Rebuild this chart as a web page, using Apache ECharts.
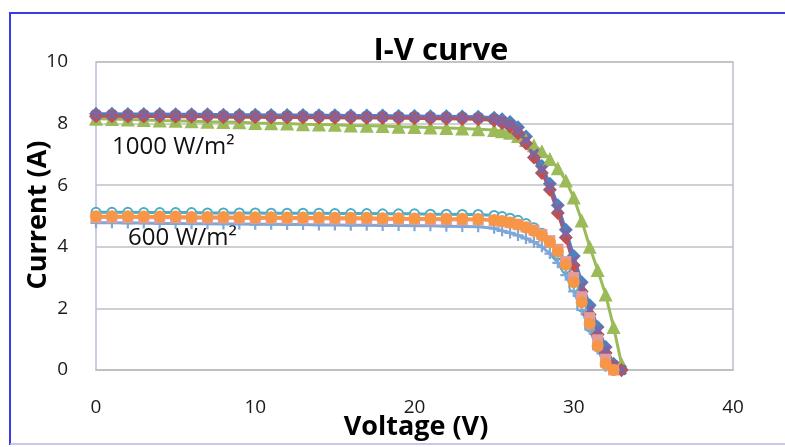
<!DOCTYPE html>
<html>
<head>
<meta charset="utf-8">
<script src="https://cdn.jsdelivr.net/npm/echarts@6/dist/echarts.min.js"></script>
<style>
  html, body { margin: 0; padding: 0; background: #fff; }
  #chart { width: 785px; height: 447px; }
</style>
</head>
<body>
<div id="chart"></div>
<script>
// voltage points shared by every series (1 V steps, then 0.5 V in the knee)
const voltage = [0,1,2,3,4,5,6,7,8,9,10,11,12,13,14,15,16,17,18,19,20,21,22,23,24,
  25,25.5,26,26.5,27,27.5,28,28.5,29,29.5,30,30.5,31,31.5,32,32.5,33]

// 1000 W/m2 curves
const cur1000a = [8.32,8.32,8.31,8.31,8.31,8.30,8.30,8.30,8.29,8.29,8.29,8.28,8.28,8.28,8.27,8.27,8.26,8.26,8.26,8.25,8.25,8.24,8.24,8.23,8.22,
  8.19,8.14,8.05,7.88,7.58,7.15,6.62,6.05,5.35,4.55,3.70,2.85,2.10,1.40,0.75,0.20,0]
const cur1000b = [8.16,8.15,8.13,8.12,8.10,8.09,8.08,8.06,8.05,8.04,8.02,8.01,8.00,7.98,7.97,7.96,7.94,7.93,7.92,7.90,7.89,7.87,7.86,7.84,7.82,
  7.79,7.75,7.70,7.60,7.47,7.30,7.10,6.85,6.55,6.15,5.60,4.85,4.00,3.25,2.45,1.40,0.20]
const cur1000c = [8.24,8.24,8.23,8.23,8.23,8.22,8.22,8.22,8.21,8.21,8.21,8.20,8.20,8.20,8.19,8.19,8.18,8.18,8.18,8.17,8.17,8.16,8.16,8.15,8.14,
  8.10,8.02,7.90,7.68,7.35,6.90,6.40,5.85,5.10,4.30,3.40,2.55,1.80,1.15,0.55,0.12,0]
const cur1000d = [8.28,8.28,8.27,8.27,8.27,8.26,8.26,8.26,8.25,8.25,8.25,8.24,8.24,8.24,8.23,8.23,8.22,8.22,8.22,8.21,8.21,8.20,8.20,8.19,8.18,
  8.14,8.07,7.96,7.76,7.45,7.02,6.50,5.95,5.25,4.45,3.55,2.70,1.95,1.28,0.65,0.15,0]

// 600 W/m2 curves
const cur600a = [5.12,5.12,5.12,5.11,5.11,5.11,5.11,5.10,5.10,5.10,5.10,5.09,5.09,5.09,5.09,5.08,5.08,5.08,5.07,5.07,5.07,5.06,5.06,5.05,5.05,
  5.02,4.98,4.93,4.86,4.76,4.62,4.44,4.18,3.75,3.30,2.70,2.05,1.40,0.75,0.20,0]
const cur600b = [4.78,4.78,4.77,4.77,4.76,4.76,4.75,4.75,4.74,4.74,4.73,4.73,4.72,4.72,4.71,4.71,4.70,4.70,4.69,4.69,4.68,4.68,4.67,4.66,4.65,
  4.60,4.52,4.45,4.37,4.27,4.15,4.00,3.78,3.48,3.08,2.55,1.95,1.32,0.68,0.12,0]
const cur600c = [4.95,4.95,4.95,4.94,4.94,4.94,4.93,4.93,4.93,4.92,4.92,4.92,4.91,4.91,4.91,4.90,4.90,4.90,4.89,4.89,4.89,4.88,4.88,4.87,4.87,
  4.85,4.82,4.78,4.72,4.64,4.54,4.40,4.20,3.92,3.52,3.00,2.38,1.70,0.98,0.35,0]
const cur600d = [4.99,4.99,4.99,4.98,4.98,4.98,4.97,4.97,4.97,4.96,4.96,4.96,4.95,4.95,4.95,4.94,4.94,4.94,4.93,4.93,4.92,4.92,4.91,4.91,4.90,
  4.87,4.84,4.79,4.72,4.63,4.51,4.36,4.15,3.85,3.42,2.85,2.20,1.50,0.78,0.20,0]

const yTicks = [0, 2, 4, 6, 8, 10]
const xTicks = [0, 10, 20, 30, 40]

const font = '"Open Sans", Lato, sans-serif'
const symX = 'path://M0,2L2,0L5,3L8,0L10,2L7,5L10,8L8,10L5,7L2,10L0,8L3,5Z'
const symPlus = 'path://M4,0H6V4H10V6H6V10H4V6H0V4H4Z'

// pair each current with its voltage
const pairs = (cur) => cur.map((c, i) => [voltage[i], c])

const mkSeries = (name, cur, color, symbol, size) => ({
  name,
  type: 'line',
  data: pairs(cur),
  symbol,
  symbolSize: size,
  showAllSymbol: true,
  smooth: false,
  lineStyle: { color, width: 3 },
  itemStyle: { color, borderColor: color, borderWidth: symbol === 'emptyCircle' ? 2 : 0 },
  emphasis: { disabled: true },
  animation: false
})

const myChart = echarts.init(document.getElementById('chart'), null, { renderer: 'canvas' })

const option = {
  backgroundColor: '#ffffff',
  animation: false,
  title: {
    text: 'I-V curve',
    left: 436,
    top: 31,
    textAlign: 'center',
    textStyle: { fontFamily: font, fontWeight: 'bold', fontSize: 31, color: '#000' }
  },
  grid: {
    left: 96, right: 52, top: 62, bottom: 77,
    containLabel: false,
    outerBoundsMode: 'none',
    show: true,
    borderColor: '#bcbcd6',
    borderWidth: 1.5
  },
  xAxis: {
    type: 'value',
    min: xTicks[0],
    max: xTicks[xTicks.length - 1],
    interval: 10,
    axisLine: { show: true, lineStyle: { color: '#c0c0c0', width: 1.5 } },
    axisTick: { show: false },
    splitLine: { show: false },
    axisLabel: { fontFamily: font, fontSize: 19, color: '#1a1a1a', margin: 28 }
  },
  yAxis: {
    type: 'value',
    min: yTicks[0],
    max: yTicks[yTicks.length - 1],
    interval: 2,
    axisLine: { show: false },
    axisTick: { show: false },
    splitLine: { show: true, lineStyle: { color: '#c0c0c0', width: 1.5 } },
    axisLabel: { fontFamily: font, fontSize: 19, color: '#1a1a1a', margin: 28 }
  },
  series: [
    mkSeries('1000 a', cur1000a, '#4F81BD', 'diamond', 14),
    mkSeries('1000 b', cur1000b, '#9BBB59', 'triangle', 14),
    mkSeries('1000 c', cur1000c, '#C0504D', 'diamond', 14),
    mkSeries('1000 d', cur1000d, '#8064A2', symX, 11),
    mkSeries('600 a', cur600a, '#4BACC6', 'emptyCircle', 9),
    mkSeries('600 b', cur600b, '#7FA7D8', symPlus, 11),
    mkSeries('600 c', cur600c, '#E39C9A', 'rect', 11),
    mkSeries('600 d', cur600d, '#F79646', 'circle', 12)
  ],
  graphic: [
    // blue frame around the whole figure
    { type: 'polyline', silent: true, shape: { points: [[10, 445], [10, 13], [790, 13]] },
      style: { stroke: '#3b3be6', lineWidth: 2, fill: null } },
    { type: 'line', silent: true, shape: { x1: 10, y1: 444, x2: 790, y2: 444 },
      style: { stroke: '#b4b4f0', lineWidth: 1.5 } },
    // axis titles (drawn as text so the gap from the axis stays as in the original)
    { type: 'text', x: 416, y: 427, silent: true,
      style: { text: 'Voltage (V)', font: 'bold 27px ' + font, fill: '#000', align: 'center', verticalAlign: 'middle' } },
    { type: 'text', x: 38, y: 215, rotation: Math.PI / 2, silent: true,
      style: { text: 'Current (A)', font: 'bold 27px ' + font, fill: '#000', align: 'center', verticalAlign: 'middle' } },
    // irradiance labels
    { type: 'text', left: 112, top: 135, silent: true,
      style: { text: '1000 W/m²', font: '24px ' + font, fill: '#111' } },
    { type: 'text', left: 128, top: 226, silent: true,
      style: { text: '600 W/m²', font: '24px ' + font, fill: '#111' } }
  ]
}

myChart.setOption(option)
</script>
</body>
</html>
